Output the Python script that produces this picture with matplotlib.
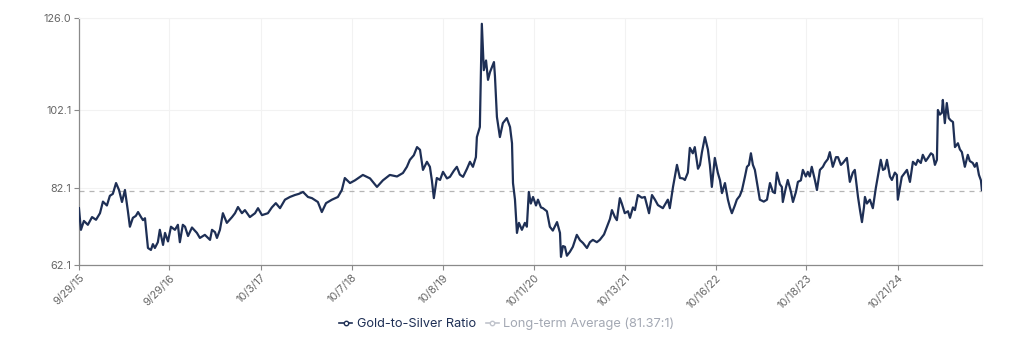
import matplotlib.pyplot as plt
from matplotlib.lines import Line2D
import pandas as pd

# days since 2015-09-29 and the gold/silver ratio
start = "2015-09-29"
days = [0, 8, 20, 36, 53, 69, 85, 97, 113, 125, 137, 150, 162, 174, 186, 198, 206, 218, 230, 239,
        251, 259, 267, 275, 279, 291, 299, 307, 319, 327, 340, 348, 360, 372, 388, 400, 408, 420, 429, 441,
        457, 477, 489, 509, 530, 538, 550, 558, 570, 582, 598, 619, 631, 643, 659, 671, 691, 712, 724, 740,
        764, 780, 796, 813, 833, 853, 873, 889, 906, 926, 942, 966, 982, 999, 1023, 1047, 1063, 1075, 1096, 1116,
        1148, 1177, 1205, 1229, 1257, 1286, 1310, 1326, 1338, 1354, 1367, 1379, 1391, 1407, 1419, 1427, 1435, 1447, 1460, 1472,
        1488, 1500, 1516, 1528, 1540, 1553, 1569, 1581, 1593, 1605, 1609, 1621, 1629, 1637, 1646, 1654, 1662, 1670, 1678, 1682,
        1690, 1702, 1714, 1730, 1743, 1751, 1755, 1763, 1771, 1779, 1791, 1803, 1811, 1819, 1827, 1836, 1848, 1856, 1868, 1876,
        1892, 1904, 1916, 1933, 1945, 1949, 1957, 1965, 1973, 1985, 1997, 2013, 2026, 2038, 2054, 2066, 2078, 2094, 2106, 2123,
        2135, 2147, 2155, 2167, 2175, 2187, 2195, 2207, 2220, 2228, 2240, 2248, 2260, 2276, 2288, 2305, 2317, 2329, 2341, 2361,
        2381, 2389, 2402, 2418, 2430, 2442, 2450, 2462, 2470, 2482, 2490, 2503, 2511, 2519, 2531, 2543, 2551, 2559, 2571, 2583,
        2592, 2600, 2612, 2624, 2632, 2640, 2652, 2660, 2672, 2681, 2693, 2701, 2709, 2717, 2725, 2733, 2745, 2753, 2769, 2782,
        2794, 2806, 2814, 2822, 2834, 2842, 2846, 2858, 2866, 2879, 2887, 2899, 2907, 2919, 2927, 2939, 2947, 2955, 2963, 2976,
        2984, 2996, 3008, 3016, 3028, 3036, 3048, 3061, 3069, 3081, 3089, 3105, 3117, 3129, 3137, 3150, 3158, 3166, 3174, 3178,
        3186, 3198, 3210, 3222, 3230, 3242, 3251, 3259, 3267, 3279, 3287, 3299, 3307, 3311, 3319, 3327, 3340, 3348, 3360, 3372,
        3384, 3392, 3404, 3412, 3424, 3433, 3445, 3453, 3461, 3469, 3473, 3481, 3489, 3493, 3501, 3509, 3517, 3525, 3534, 3542,
        3554, 3562, 3570, 3582, 3594, 3602, 3614, 3622, 3630, 3639, 3647, 3651]
ratio = [76.8, 71.2, 73.5, 72.5, 74.5, 73.8, 75.5, 78.5, 77.5, 80.0, 80.5, 83.3, 81.5, 78.4, 81.5, 76.0, 72.0, 74.3, 74.8, 75.8,
         74.5, 73.7, 74.2, 69.0, 66.5, 66.0, 67.5, 66.5, 68.0, 71.2, 67.3, 70.4, 68.2, 72.0, 71.2, 72.5, 68.0, 72.5, 72.0, 69.6,
         71.8, 70.4, 69.1, 69.9, 68.6, 71.2, 70.6, 69.1, 71.2, 75.5, 73.0, 74.5, 75.5, 77.1, 75.5, 76.3, 74.5, 75.5, 76.8, 75.0,
         75.5, 77.0, 78.1, 76.8, 79.0, 79.7, 80.2, 80.5, 81.0, 79.7, 79.4, 78.4, 75.8, 78.1, 79.0, 79.7, 81.5, 84.6, 83.3, 84.0,
         85.4, 84.5, 82.3, 84.0, 85.4, 85.0, 85.9, 87.5, 89.3, 90.5, 92.6, 91.9, 86.7, 88.8, 87.5, 84.0, 79.4, 84.6, 84.1, 86.2,
         84.5, 84.9, 86.5, 87.5, 85.5, 84.9, 87.0, 88.8, 87.5, 90.0, 95.2, 97.8, 124.5, 112.5, 115.0, 110.0, 112.0, 113.3, 114.6, 111.0,
         100.4, 95.2, 98.8, 100.1, 97.8, 93.6, 83.3, 79.0, 70.4, 73.0, 71.2, 73.0, 72.0, 81.0, 78.0, 79.7, 77.5, 79.0, 77.0, 76.8,
         76.0, 72.0, 71.0, 73.2, 70.4, 64.2, 67.0, 66.8, 64.5, 65.5, 66.8, 69.9, 68.5, 67.8, 66.5, 68.0, 68.6, 68.0, 68.6, 70.0,
         72.0, 74.0, 76.3, 74.5, 73.7, 79.4, 78.0, 75.5, 76.0, 74.3, 77.0, 76.3, 80.2, 79.5, 79.7, 75.5, 80.2, 79.0, 77.6, 76.8,
         79.0, 76.8, 82.3, 88.0, 84.6, 84.5, 84.1, 86.0, 92.4, 91.0, 92.6, 87.0, 88.0, 91.3, 95.2, 92.0, 88.0, 82.3, 89.8, 86.0,
         84.0, 80.7, 83.3, 79.0, 77.0, 75.5, 77.5, 79.0, 80.0, 81.5, 85.0, 87.5, 88.0, 91.0, 88.0, 86.7, 82.0, 79.0, 78.5, 79.0,
         83.3, 81.0, 80.7, 86.0, 83.0, 82.3, 78.4, 82.0, 84.1, 81.0, 78.4, 81.0, 83.6, 84.0, 86.7, 85.0, 86.2, 85.0, 87.5, 84.0,
         81.5, 86.7, 87.5, 88.5, 89.5, 91.3, 87.5, 90.0, 90.0, 88.0, 88.5, 89.8, 83.6, 86.0, 86.7, 79.7, 76.3, 73.2, 77.0, 79.7,
         78.0, 79.0, 76.8, 82.0, 84.9, 89.3, 86.7, 87.0, 89.3, 85.0, 84.1, 86.0, 85.4, 79.0, 82.0, 84.9, 86.0, 86.7, 83.6, 88.8,
         88.0, 89.3, 88.5, 90.6, 89.0, 89.8, 91.0, 90.6, 88.0, 89.3, 102.2, 101.0, 101.5, 104.8, 98.8, 104.0, 100.1, 99.5, 99.1, 92.6,
         93.6, 92.0, 91.3, 87.5, 90.6, 89.0, 88.5, 87.5, 88.5, 85.4, 84.0, 81.5]

long_term_avg = 81.37
y_ticks = [62.1, 82.1, 102.1, 126.0]
x_tick_dates = ["2015-09-29", "2016-09-29", "2017-10-03", "2018-10-07", "2019-10-08",
                "2020-10-11", "2021-10-13", "2022-10-16", "2023-10-18", "2024-10-21"]
x_tick_labels = ["9/29/15", "9/29/16", "10/3/17", "10/7/18", "10/8/19",
                 "10/11/20", "10/13/21", "10/16/22", "10/18/23", "10/21/24"]

navy = "#1e2f55"
grey_text = "#666666"

plt.rcParams['font.family'] = ['Inter', 'DejaVu Sans']

dates = pd.Timestamp(start) + pd.to_timedelta(days, unit="D")

fig = plt.figure(figsize=(10.24, 3.54), dpi=100)
ax = fig.add_axes([0.0771, 0.2514, 0.8818, 0.6978])

ax.plot(dates, ratio, color=navy, linewidth=1.6, zorder=3, solid_joinstyle="round")
ax.axhline(long_term_avg, color="#b5b5b5", linewidth=0.9, linestyle=(0, (4, 4)), zorder=2)

ax.set_xlim(dates[0], dates[-1])
ax.set_ylim(62.1, 126.0)
ax.set_yticks(y_ticks)
ax.set_yticklabels([f"{v:.1f}" for v in y_ticks])
ax.set_xticks(pd.to_datetime(x_tick_dates))
ax.set_xticklabels(x_tick_labels, rotation=45, ha="right", rotation_mode="anchor")

ax.grid(True, color="#f2f2f2", linewidth=0.8, zorder=0)
for side in ["top", "right"]:
    ax.spines[side].set_color("#f2f2f2")
    ax.spines[side].set_linewidth(0.8)
for side in ["left", "bottom"]:
    ax.spines[side].set_color("#8a8a8a")
    ax.spines[side].set_linewidth(0.9)

ax.tick_params(axis="both", colors="#8a8a8a", length=3.5, width=0.8,
               labelsize=7.8, labelcolor=grey_text, pad=2)

handles = [
    Line2D([], [], color=navy, linewidth=1.2, marker="o", markersize=3.2,
           markerfacecolor="white", markeredgecolor=navy, markeredgewidth=1.0),
    Line2D([], [], color="#c0c4cc", linewidth=1.2, marker="o", markersize=3.2,
           markerfacecolor="white", markeredgecolor="#c0c4cc", markeredgewidth=1.0),
]
fig.legend(handles, ["Gold-to-Silver Ratio", f"Long-term Average ({long_term_avg}:1)"],
           loc="center", bbox_to_anchor=(0.495, 0.085), ncol=2, frameon=False,
           fontsize=9.2, handlelength=1.0, handletextpad=0.35, columnspacing=0.8,
           labelcolor=[navy, "#a3a8b3"])

fig.savefig("out.png", dpi=100, facecolor="white")
